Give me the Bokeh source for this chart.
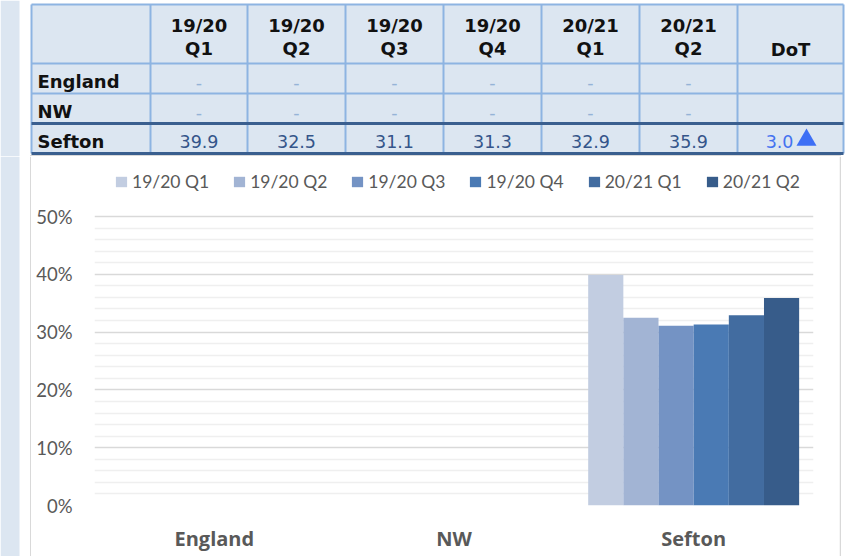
import math
from bokeh.plotting import figure
from bokeh.layouts import column, row
from bokeh.models import (ColumnDataSource, Range1d, FactorRange, Legend, LegendItem,
                          FixedTicker, PrintfTickFormatter)
from bokeh.transform import dodge
from bokeh.core.properties import value
from bokeh.embed import file_html
from bokeh.resources import INLINE

NaN = float("nan")

# ---------------- data ----------------
regions = ["England", "NW", "Sefton"]
periods = ["19/20 Q1", "19/20 Q2", "19/20 Q3", "19/20 Q4", "20/21 Q1", "20/21 Q2"]
v_1920_q1 = [NaN, NaN, 39.9]
v_1920_q2 = [NaN, NaN, 32.5]
v_1920_q3 = [NaN, NaN, 31.1]
v_1920_q4 = [NaN, NaN, 31.3]
v_2021_q1 = [NaN, NaN, 32.9]
v_2021_q2 = [NaN, NaN, 35.9]
dot_values = [NaN, NaN, 3.0]
y_major_ticks = [0, 10, 20, 30, 40, 50]
y_minor_ticks = [2, 4, 6, 8, 12, 14, 16, 18, 22, 24, 26, 28, 32, 34, 36, 38, 42, 44, 46, 48]

series = [v_1920_q1, v_1920_q2, v_1920_q3, v_1920_q4, v_2021_q1, v_2021_q2]
bar_colors = ["#c2cde1", "#a2b4d4", "#7493c4", "#4a7ab4", "#426ca0", "#375c8a"]

PAGE_W = 851
PAGE_H = 556
TABLE_H = 156
CHART_H = PAGE_H - TABLE_H

TBL_BG = "#dce6f1"
LIGHT = "#8db4e2"
DARK = "#3a5f8f"
FRAME_GRAY = "#d9d9d9"


def blank_fig(w, h, xr, yr):
    f = figure(width=w, height=h, x_range=Range1d(*xr), y_range=Range1d(*yr),
               output_backend="svg", toolbar_location=None, min_border=0,
               x_axis_type=None, y_axis_type=None, frame_align=False)
    f.grid.visible = False
    f.outline_line_color = None
    f.background_fill_color = "white"
    f.border_fill_color = "white"
    return f


# ---------------- table figure (data coords = page pixels) ----------------
t = blank_fig(PAGE_W, TABLE_H, (0, PAGE_W), (TABLE_H, 0))

col_edges = [31, 150, 247, 345, 443, 541, 639, 737, 843]
row_edges = [4, 63, 93, 123, 153]

t.quad(left=[0], right=[19], top=[0], bottom=[TABLE_H], fill_color=TBL_BG, line_color=None)
t.quad(left=[col_edges[0]], right=[col_edges[-1]], top=[row_edges[0]], bottom=[row_edges[-1]],
       fill_color=TBL_BG, line_color=None)
# chart frame top edge
t.quad(left=[29.5], right=[840.5], top=[154.6], bottom=[156], fill_color=FRAME_GRAY, line_color=None)
# vertical rules
t.segment(x0=col_edges, y0=[row_edges[0]] * len(col_edges), x1=col_edges,
          y1=[row_edges[-1]] * len(col_edges), line_color=LIGHT, line_width=2)
# horizontal rules
t.segment(x0=[col_edges[0]] * 3, y0=row_edges[:3], x1=[col_edges[-1]] * 3, y1=row_edges[:3],
          line_color=LIGHT, line_width=2)
t.segment(x0=[col_edges[0]] * 2, y0=row_edges[3:], x1=[col_edges[-1]] * 2, y1=row_edges[3:],
          line_color=DARK, line_width=3)

centers = [(col_edges[i] + col_edges[i + 1]) / 2 for i in range(len(col_edges) - 1)]
HFONT = value("DejaVu Sans")

# header
h1 = [p.split(" ")[0] for p in periods]
h2 = [p.split(" ")[1] for p in periods]
hdr = dict(text_align="center", text_baseline="middle", text_font=HFONT,
           text_font_style="bold", text_font_size="18px", text_color="#111111")
t.text(x=centers[1:7], y=[25] * 6, text=h1, **hdr)
t.text(x=centers[1:7], y=[48] * 6, text=h2, **hdr)
t.text(x=[centers[7]], y=[49], text=["DoT"], **hdr)

# row labels
row_mid = [(row_edges[i] + row_edges[i + 1]) / 2 + 2.5 for i in range(1, 4)]
t.text(x=[37] * 3, y=row_mid, text=regions, text_align="left", text_baseline="middle",
       text_font=HFONT, text_font_style="bold", text_font_size="18px", text_color="#111111")

# values
for r in range(len(regions)):
    xs, ys, txt, cols = [], [], [], []
    for i, s in enumerate(series):
        v = s[r]
        xs.append(centers[i + 1])
        if math.isnan(v):
            ys.append(row_mid[r] + 1)
            txt.append("-")
            cols.append("#95b3d7")
        else:
            ys.append(row_mid[r] + 0.5)
            txt.append(f"{v:.1f}")
            cols.append("#34558a")
    t.text(x=xs, y=ys, text=txt, text_align="center", text_baseline="middle",
           text_font=HFONT, text_font_size="17.5px", text_color=cols)
    d = dot_values[r]
    if not math.isnan(d):
        t.text(x=[centers[7] + 3], y=[row_mid[r] + 0.5], text=[f"{d:.1f}"], text_align="right",
               text_baseline="middle", text_font=HFONT, text_font_size="17.5px",
               text_color="#4472f0")
        t.scatter(x=[centers[7] + 16], y=[row_mid[r] - 1],
                  marker="triangle" if d > 0 else "inverted_triangle",
                  size=20, fill_color="#3d6ff5", line_color=None)

# ---------------- left / right decoration strips ----------------
LF_W = 31
RF_W = 12
lf = blank_fig(LF_W, CHART_H, (0, LF_W), (PAGE_H, TABLE_H))
lf.quad(left=[0], right=[19], top=[TABLE_H], bottom=[PAGE_H], fill_color=TBL_BG, line_color=None)
lf.quad(left=[29.5], right=[31], top=[TABLE_H], bottom=[PAGE_H], fill_color=FRAME_GRAY, line_color=None)

rf = blank_fig(RF_W, CHART_H, (PAGE_W - RF_W, PAGE_W), (PAGE_H, TABLE_H))
rf.quad(left=[PAGE_W - RF_W], right=[PAGE_W - RF_W + 1.5], top=[TABLE_H], bottom=[PAGE_H],
        fill_color=FRAME_GRAY, line_color=None)

# ---------------- chart figure ----------------
C_W = PAGE_W - LF_W - RF_W          # page x 31 .. 839
FRAME_LEFT, FRAME_RIGHT = 94, 813   # page px
Y0_PAGE, Y50_PAGE = 505, 216        # page px of 0% and 50%
bottom_border = PAGE_H - Y0_PAGE
y_end = 50 * (Y0_PAGE - TABLE_H) / (Y0_PAGE - Y50_PAGE)

c = figure(width=C_W, height=CHART_H, x_range=FactorRange(*regions), y_range=Range1d(0, y_end),
           output_backend="svg", toolbar_location=None, frame_align=False,
           min_border_left=FRAME_LEFT - LF_W, min_border_right=(PAGE_W - RF_W) - FRAME_RIGHT,
           min_border_top=0, min_border_bottom=bottom_border)
c.outline_line_color = None
c.background_fill_color = "white"
c.border_fill_color = "white"

data = dict(region=regions)
for i, s in enumerate(series):
    data[f"s{i}"] = s
src = ColumnDataSource(data)

bw = 0.1467
renderers = []
for i in range(len(series)):
    off = (i - (len(series) - 1) / 2) * bw
    r = c.vbar(x=dodge("region", off, range=c.x_range), top=f"s{i}", width=bw, source=src,
               fill_color=bar_colors[i], line_color=None)
    renderers.append(r)

legend = Legend(items=[LegendItem(label=periods[i], renderers=[renderers[i]])
                       for i in range(len(periods))],
                orientation="horizontal", location=(20, 313), padding=0, spacing=23,
                glyph_width=14, glyph_height=13, label_standoff=4,
                label_text_font="Lato", label_text_font_size="17.5px", label_text_color="#595959",
                background_fill_alpha=0, border_line_color=None, margin=0)
c.add_layout(legend)

c.yaxis.ticker = FixedTicker(ticks=y_major_ticks, minor_ticks=y_minor_ticks)
c.yaxis.formatter = PrintfTickFormatter(format="%d%%")
c.yaxis.axis_line_color = None
c.yaxis.major_tick_line_color = None
c.yaxis.minor_tick_line_color = None
c.yaxis.major_tick_out = 0
c.yaxis.major_tick_in = 0
c.yaxis.minor_tick_out = 0
c.yaxis.major_label_standoff = 22
c.yaxis.major_label_text_font = "Lato"
c.yaxis.major_label_text_font_size = "18.5px"
c.yaxis.major_label_text_color = "#595959"

c.xaxis.axis_line_color = None
c.xaxis.major_tick_line_color = None
c.xaxis.major_tick_out = 0
c.xaxis.major_tick_in = 0
c.xaxis.major_label_standoff = 19
c.xaxis.major_label_text_font = "Open Sans"
c.xaxis.major_label_text_font_style = "bold"
c.xaxis.major_label_text_font_size = "20px"
c.xaxis.major_label_text_color = "#595959"

c.xgrid.grid_line_color = None
c.ygrid.grid_line_color = "#d9d9d9"
c.ygrid.grid_line_width = 1.5
c.ygrid.minor_grid_line_color = "#efefef"
c.ygrid.minor_grid_line_width = 1.5

layout = column(t, row(lf, c, rf))
open("out.html", "w").write(file_html(layout, INLINE))
